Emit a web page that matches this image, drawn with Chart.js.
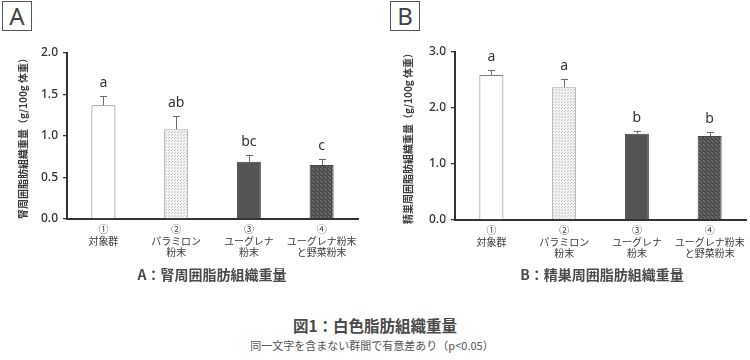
<!DOCTYPE html>
<html><head><meta charset="utf-8">
<script src="https://cdn.jsdelivr.net/npm/chart.js@4.4.1/dist/chart.umd.min.js"></script>
<style>
html,body{margin:0;padding:0;background:#fff;width:750px;height:360px;overflow:hidden;font-family:"Noto Sans CJK JP","Noto Sans",sans-serif;}
.box{position:absolute;width:28px;height:28px;border:1.5px solid #555;color:#444;font:24px "Noto Sans","Noto Sans CJK JP",sans-serif;line-height:28px;text-align:center;}
.wrap{position:absolute;top:0;height:290px;}
.ttl{position:absolute;font-weight:bold;color:#4a4a4a;white-space:nowrap;transform:translate(-50%,-50%);}
</style></head>
<body>
<div class="box" style="left:2px;top:1px;">A</div>
<div class="box" style="left:390px;top:1px;">B</div>
<div class="wrap" style="left:0;width:370px;"><canvas id="cA" width="370" height="290"></canvas></div>
<div class="wrap" style="left:375px;width:375px;"><canvas id="cB" width="375" height="290"></canvas></div>
<div class="ttl" id="tA" style="left:212px;top:274px;font-size:14px;"></div>
<div class="ttl" id="tB" style="left:602px;top:274px;font-size:14px;"></div>
<div class="ttl" id="fig" style="left:375px;top:325px;font-size:15.5px;"></div>
<div class="ttl" id="note" style="left:372px;top:345px;font-size:11px;font-weight:normal;color:#555;"></div>
<script>
// ---- data ----
const categories = [['①','対象群'], ['②','パラミロン','粉末'], ['③','ユーグレナ','粉末'], ['④','ユーグレナ粉末','と野菜粉末']];
const valuesA = [1.37, 1.08, 0.69, 0.65];
const errorsA = [0.11, 0.16, 0.085, 0.075];
const lettersA = ['a', 'ab', 'bc', 'c'];
const valuesB = [2.59, 2.37, 1.54, 1.50];
const errorsB = [0.09, 0.15, 0.055, 0.07];
const lettersB = ['a', 'a', 'b', 'b'];
const yTicksA = [0, 0.5, 1.0, 1.5, 2.0];
const yTicksB = [0, 1.0, 2.0, 3.0];
const yTitleA = '腎周囲脂肪組織重量（g/100g 体重）';
const yTitleB = '精巣周囲脂肪組織重量（g/100g 体重）';
const titleA = 'A：腎周囲脂肪組織重量';
const titleB = 'B：精巣周囲脂肪組織重量';
const figTitle = '図1：白色脂肪組織重量';
const figNote = '同一文字を含まない群間で有意差あり（p<0.05）';

document.getElementById('tA').textContent = titleA;
document.getElementById('tB').textContent = titleB;
document.getElementById('fig').textContent = figTitle;
document.getElementById('note').textContent = figNote;

function makePattern(size, bg, fg, dots) {
  const c = document.createElement('canvas');
  c.width = size; c.height = size;
  const x = c.getContext('2d');
  x.fillStyle = bg; x.fillRect(0, 0, size, size);
  x.fillStyle = fg;
  dots.forEach(d => x.fillRect(d[0], d[1], 1, 1));
  return x.createPattern(c, 'repeat');
}
const fills = [
  '#ffffff',
  makePattern(3, '#f3f3f3', '#c4c4c4', [[0,0],[1,2]]),
  '#545454',
  makePattern(4, '#4e4e4e', '#7c7c7c', [[0,0],[2,2],[1,1]])
];
const borders = ['#7a7a7a', '#a8a8a8', '#444', '#444'];

const errPlugin = {
  id: 'errPlugin',
  afterDatasetsDraw(chart) {
    const o = chart.options.plugins.errPlugin;
    const ctx = chart.ctx, ys = chart.scales.y;
    const meta = chart.getDatasetMeta(0);
    const vals = chart.data.datasets[0].data;
    ctx.save();
    meta.data.forEach((bar, i) => {
      const top = ys.getPixelForValue(vals[i] + o.errors[i]);
      const base = ys.getPixelForValue(vals[i]);
      ctx.strokeStyle = '#6a6a6a'; ctx.lineWidth = 1;
      ctx.beginPath();
      ctx.moveTo(Math.round(bar.x) + 0.5, base);
      ctx.lineTo(Math.round(bar.x) + 0.5, top);
      ctx.moveTo(Math.round(bar.x) - 3, Math.round(top) + 0.5);
      ctx.lineTo(Math.round(bar.x) + 4, Math.round(top) + 0.5);
      ctx.stroke();
      ctx.fillStyle = '#333';
      ctx.font = '14px "Noto Sans","Liberation Sans",sans-serif';
      ctx.textAlign = 'center';
      ctx.textBaseline = 'alphabetic';
      ctx.fillText(o.letters[i], bar.x, top - 9);
    });
    ctx.restore();
  }
};

function build(id, vals, errs, letters, ticks, ymax, yTitle, yWidth, padTop, padRight, titlePad, xHeight) {
  return new Chart(document.getElementById(id), {
    type: 'bar',
    data: { labels: categories, datasets: [{
      data: vals, backgroundColor: fills, borderColor: borders, borderWidth: 1,
      categoryPercentage: 1.0, barPercentage: 0.33
    }]},
    options: {
      responsive: false, animation: false,
      layout: { padding: { top: padTop, right: padRight, left: 0, bottom: 0 } },
      plugins: { legend: { display: false }, tooltip: { enabled: false },
        errPlugin: { errors: errs, letters: letters } },
      scales: {
        x: {
          grid: { display: false, drawTicks: false },
          border: { display: true, color: '#333', width: 2 },
          ticks: { color: '#3a3a3a', maxRotation: 0, minRotation: 0, autoSkip: false, padding: 5,
            font: { family: '"Noto Sans CJK JP"', size: 10, lineHeight: 1.12 } },
          afterFit(s) { s.height = xHeight; }
        },
        y: {
          min: 0, max: ymax,
          afterBuildTicks(s) { s.ticks = ticks.map(v => ({ value: v })); },
          grid: { display: true, drawOnChartArea: false, drawTicks: true, tickLength: 4, color: '#333', lineWidth: 1.3 },
          border: { display: true, color: '#333', width: 2 },
          ticks: { color: '#333', padding: 5, font: { family: '"Noto Sans"', size: 12, weight: '500' },
            callback: v => Number(v).toFixed(1) },
          title: { display: true, text: yTitle, color: '#3a3a3a', padding: { top: titlePad, bottom: 0 },
            font: { family: '"Noto Sans CJK JP"', size: 10, weight: 'bold', lineHeight: 1.2 } },
          afterFit(s) { s.width = yWidth; }
        }
      }
    },
    plugins: [errPlugin]
  });
}

build('cA', valuesA, errorsA, lettersA, yTicksA, 2.0, yTitleA, 67, 53, 12, 17, 71);
build('cB', valuesB, errorsB, lettersB, yTicksB, 3.0, yTitleB, 80, 52, 3, 27, 70);
</script>
</body></html>
